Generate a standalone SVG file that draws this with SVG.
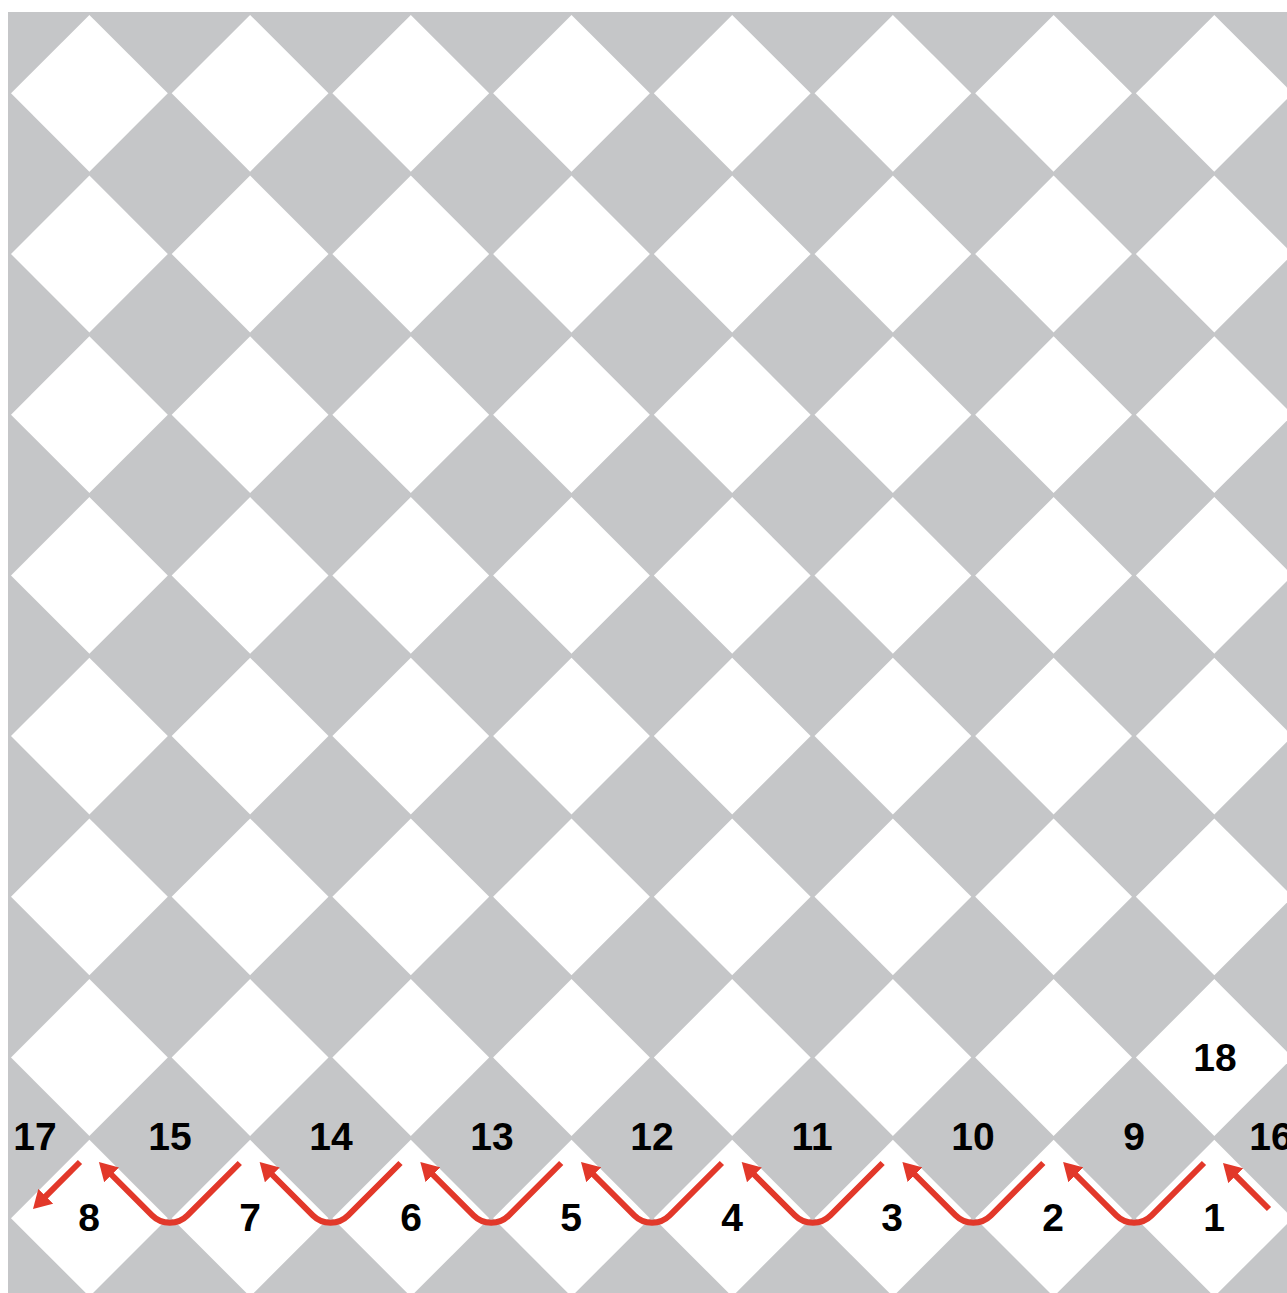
<svg xmlns="http://www.w3.org/2000/svg" xmlns:xlink="http://www.w3.org/1999/xlink" width="1287" height="1293" viewBox="0 0 1287 1293">
  <style>
    .bg { fill: #c5c6c8; }
    .tile { fill: #ffffff; }
    .lbl { font-family: "Liberation Sans", Arial, Helvetica, sans-serif; font-weight: bold; font-size: 39px; fill: #000000; text-anchor: middle; }
    .arrow { fill: none; stroke: #e2382a; stroke-width: 6; stroke-linejoin: round; marker-end: url(#head); }
  </style>
  <defs>
    <polygon id="d" class="tile" points="0,-78.4 78.4,0 0,78.4 -78.4,0"/>
    <marker id="head" viewBox="0 0 18 21" refX="4" refY="10.5" markerWidth="18" markerHeight="21" markerUnits="userSpaceOnUse" orient="auto">
      <path d="M0,0 L18,10.5 L0,21 z" fill="#e2382a"/>
    </marker>
  </defs>
  <rect class="bg" x="8" y="12" width="1279" height="1281"/>
  <g id="tiles">
    <use xlink:href="#d" x="89.4" y="93.3"/><use xlink:href="#d" x="250.1" y="93.3"/><use xlink:href="#d" x="410.8" y="93.3"/><use xlink:href="#d" x="571.5" y="93.3"/><use xlink:href="#d" x="732.2" y="93.3"/><use xlink:href="#d" x="892.9" y="93.3"/><use xlink:href="#d" x="1053.6" y="93.3"/><use xlink:href="#d" x="1214.3" y="93.3"/>
    <use xlink:href="#d" x="89.4" y="254"/><use xlink:href="#d" x="250.1" y="254"/><use xlink:href="#d" x="410.8" y="254"/><use xlink:href="#d" x="571.5" y="254"/><use xlink:href="#d" x="732.2" y="254"/><use xlink:href="#d" x="892.9" y="254"/><use xlink:href="#d" x="1053.6" y="254"/><use xlink:href="#d" x="1214.3" y="254"/>
    <use xlink:href="#d" x="89.4" y="414.7"/><use xlink:href="#d" x="250.1" y="414.7"/><use xlink:href="#d" x="410.8" y="414.7"/><use xlink:href="#d" x="571.5" y="414.7"/><use xlink:href="#d" x="732.2" y="414.7"/><use xlink:href="#d" x="892.9" y="414.7"/><use xlink:href="#d" x="1053.6" y="414.7"/><use xlink:href="#d" x="1214.3" y="414.7"/>
    <use xlink:href="#d" x="89.4" y="575.4"/><use xlink:href="#d" x="250.1" y="575.4"/><use xlink:href="#d" x="410.8" y="575.4"/><use xlink:href="#d" x="571.5" y="575.4"/><use xlink:href="#d" x="732.2" y="575.4"/><use xlink:href="#d" x="892.9" y="575.4"/><use xlink:href="#d" x="1053.6" y="575.4"/><use xlink:href="#d" x="1214.3" y="575.4"/>
    <use xlink:href="#d" x="89.4" y="736.1"/><use xlink:href="#d" x="250.1" y="736.1"/><use xlink:href="#d" x="410.8" y="736.1"/><use xlink:href="#d" x="571.5" y="736.1"/><use xlink:href="#d" x="732.2" y="736.1"/><use xlink:href="#d" x="892.9" y="736.1"/><use xlink:href="#d" x="1053.6" y="736.1"/><use xlink:href="#d" x="1214.3" y="736.1"/>
    <use xlink:href="#d" x="89.4" y="896.8"/><use xlink:href="#d" x="250.1" y="896.8"/><use xlink:href="#d" x="410.8" y="896.8"/><use xlink:href="#d" x="571.5" y="896.8"/><use xlink:href="#d" x="732.2" y="896.8"/><use xlink:href="#d" x="892.9" y="896.8"/><use xlink:href="#d" x="1053.6" y="896.8"/><use xlink:href="#d" x="1214.3" y="896.8"/>
    <use xlink:href="#d" x="89.4" y="1057.5"/><use xlink:href="#d" x="250.1" y="1057.5"/><use xlink:href="#d" x="410.8" y="1057.5"/><use xlink:href="#d" x="571.5" y="1057.5"/><use xlink:href="#d" x="732.2" y="1057.5"/><use xlink:href="#d" x="892.9" y="1057.5"/><use xlink:href="#d" x="1053.6" y="1057.5"/><use xlink:href="#d" x="1214.3" y="1057.5"/>
    <use xlink:href="#d" x="89.4" y="1218.2"/><use xlink:href="#d" x="250.1" y="1218.2"/><use xlink:href="#d" x="410.8" y="1218.2"/><use xlink:href="#d" x="571.5" y="1218.2"/><use xlink:href="#d" x="732.2" y="1218.2"/><use xlink:href="#d" x="892.9" y="1218.2"/><use xlink:href="#d" x="1053.6" y="1218.2"/><use xlink:href="#d" x="1214.3" y="1218.2"/>
  </g>
  <g id="connectors">
    <path class="arrow" d="M80,1162 L42.9,1199.1"/>
    <path class="arrow" d="M239.8,1163 L187.5,1215.3 A25,25 0 0 1 152.1,1215.3 L108.8,1172"/>
    <path class="arrow" d="M400.5,1163 L348.2,1215.3 A25,25 0 0 1 312.8,1215.3 L269.5,1172"/>
    <path class="arrow" d="M561.2,1163 L508.9,1215.3 A25,25 0 0 1 473.5,1215.3 L430.2,1172"/>
    <path class="arrow" d="M721.9,1163 L669.6,1215.3 A25,25 0 0 1 634.2,1215.3 L590.9,1172"/>
    <path class="arrow" d="M882.6,1163 L830.3,1215.3 A25,25 0 0 1 794.9,1215.3 L751.6,1172"/>
    <path class="arrow" d="M1043.3,1163 L991,1215.3 A25,25 0 0 1 955.6,1215.3 L912.3,1172"/>
    <path class="arrow" d="M1204,1163 L1151.7,1215.3 A25,25 0 0 1 1116.3,1215.3 L1073,1172"/>
    <path class="arrow" d="M1269,1209 L1232.9,1172.9"/>
  </g>
  <g id="n1"><text class="lbl" x="1214" y="1231">1</text></g>
  <g id="n2"><text class="lbl" x="1053" y="1231">2</text></g>
  <g id="n3"><text class="lbl" x="892" y="1231">3</text></g>
  <g id="n4"><text class="lbl" x="732" y="1231">4</text></g>
  <g id="n5"><text class="lbl" x="571" y="1231">5</text></g>
  <g id="n6"><text class="lbl" x="411" y="1231">6</text></g>
  <g id="n7"><text class="lbl" x="250" y="1231">7</text></g>
  <g id="n8"><text class="lbl" x="89" y="1231">8</text></g>
  <g id="n9"><text class="lbl" x="1134" y="1150">9</text></g>
  <g id="n10"><text class="lbl" x="973" y="1150">10</text></g>
  <g id="n11"><text class="lbl" x="812" y="1150">11</text></g>
  <g id="n12"><text class="lbl" x="652" y="1150">12</text></g>
  <g id="n13"><text class="lbl" x="492" y="1150">13</text></g>
  <g id="n14"><text class="lbl" x="331" y="1150">14</text></g>
  <g id="n15"><text class="lbl" x="170" y="1150">15</text></g>
  <g id="n16"><text class="lbl" x="1271" y="1150">16</text></g>
  <g id="n17"><text class="lbl" x="35" y="1150">17</text></g>
  <g id="n18"><text class="lbl" x="1215" y="1071">18</text></g>
</svg>
